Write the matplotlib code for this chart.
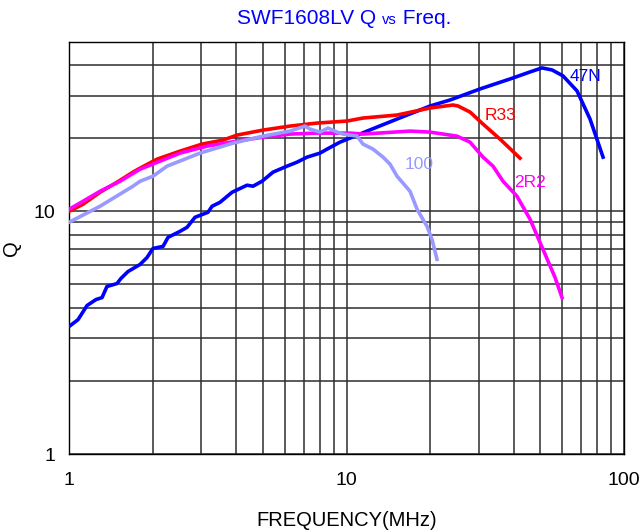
import numpy as np
import matplotlib
matplotlib.use("Agg")
import matplotlib.pyplot as plt
from matplotlib.ticker import FixedLocator, NullFormatter, FixedFormatter

plt.rcParams['font.family'] = ['Liberation Sans', 'DejaVu Sans']

# --- data (frequency MHz, Q) ---
f_47n = [1.00, 1.078, 1.161, 1.251, 1.315, 1.370, 1.489, 1.539, 1.632, 1.803, 1.910, 2.007,
         2.182, 2.274, 2.512, 2.662, 2.845, 3.169, 3.276, 3.500, 3.868, 4.379, 4.604, 4.961,
         5.434, 6.105, 6.631, 7.206, 8.025, 8.506, 9.476, 10.29, 11.86, 15.21, 20.00, 23.60,
         30.28, 39.81, 45.86, 50.63, 55.03, 60.28, 67.72, 75.42, 84.03]
q_47n = [3.35, 3.58, 4.09, 4.33, 4.41, 4.90, 5.04, 5.29, 5.65, 6.04, 6.45, 7.03,
         7.17, 7.81, 8.27, 8.59, 9.45, 9.91, 10.49, 10.89, 11.98, 12.81, 12.69, 13.30,
         14.50, 15.35, 15.94, 16.72, 17.37, 18.04, 19.28, 20.03, 21.41, 24.00, 27.16, 28.75,
         31.93, 35.44, 37.53, 38.98, 38.24, 36.14, 31.33, 24.00, 16.72]

f_r33 = [1.00, 1.123, 1.293, 1.489, 1.700, 1.803, 2.075, 2.512, 3.015, 3.589, 4.031, 5.003,
         6.256, 7.831, 10.04, 11.47, 15.21, 20.00, 24.20, 25.22, 27.86, 31.04, 35.74, 42.19]
q_r33 = [10.0, 10.69, 11.98, 13.18, 14.50, 15.06, 16.40, 17.70, 18.92, 19.65, 20.61, 21.61,
         22.45, 23.10, 23.55, 24.23, 24.93, 26.65, 27.42, 27.16, 25.65, 22.88, 19.84, 16.56]

f_2r2 = [1.00, 1.123, 1.293, 1.527, 1.803, 2.128, 2.512, 3.143, 4.031, 5.003, 6.256, 7.831,
         10.29, 11.47, 16.94, 20.00, 25.01, 27.86, 31.04, 33.72, 36.64, 41.16, 45.86, 51.05,
         56.42, 59.78]
q_2r2 = [10.19, 11.00, 12.09, 13.30, 14.91, 16.09, 17.37, 18.56, 19.46, 20.22, 20.81, 21.00,
         21.00, 20.81, 21.41, 21.20, 20.41, 19.28, 16.72, 15.35, 13.30, 11.53, 9.27, 6.97,
         5.34, 4.41]

f_100 = [1.00, 1.293, 1.700, 1.803, 2.007, 2.255, 2.965, 3.899, 5.003, 6.256, 7.087, 7.387,
         8.025, 8.577, 9.244, 9.714, 10.91, 11.47, 12.46, 13.54, 14.35, 15.21, 16.94, 17.96,
         19.50, 20.33, 21.19]
q_100 = [9.01, 10.49, 12.69, 13.30, 13.95, 15.35, 17.37, 19.10, 20.41, 21.41, 22.45, 21.82,
         21.20, 22.03, 21.20, 20.81, 20.41, 18.92, 18.04, 16.72, 15.64, 13.95, 12.09, 10.19,
         8.67, 7.66, 6.34]

series = [
    ("47N", f_47n, q_47n, "#0000FF", (72.4, 36.1)),
    ("R33", f_r33, q_r33, "#FF0000", (36.0, 24.9)),
    ("2R2", f_2r2, q_2r2, "#FF00FF", (45.9, 13.2)),
    ("100", f_100, q_100, "#9999FF", (18.25, 15.6)),
]

x_ticks = [1, 10, 100]
y_ticks = [1, 10]

fig = plt.figure(figsize=(6.42, 5.31), dpi=100)
ax = fig.add_axes([0.1075, 0.145, 0.8645, 0.7765])
ax.set_xscale('log')
ax.set_yscale('log')
ax.set_xlim(1, 100)
ax.set_ylim(1, 50)

# grid
ax.xaxis.set_major_locator(FixedLocator(x_ticks))
ax.yaxis.set_major_locator(FixedLocator(y_ticks))
ax.xaxis.set_major_formatter(FixedFormatter([str(v) for v in x_ticks]))
ax.yaxis.set_major_formatter(FixedFormatter([str(v) for v in y_ticks]))
ax.xaxis.set_minor_locator(FixedLocator([k * d for d in (1, 10) for k in range(2, 10)]))
ax.yaxis.set_minor_locator(FixedLocator([k * d for d in (1, 10) for k in range(2, 10) if k * d < 50]))
ax.xaxis.set_minor_formatter(NullFormatter())
ax.yaxis.set_minor_formatter(NullFormatter())
ax.grid(True, which='both', color='#2e2e2e', linewidth=1.1)
ax.tick_params(which='both', length=0, labelsize=14)
ax.tick_params(axis='x', pad=13)
ax.tick_params(axis='y', pad=10)

for name, f, q, col, pos in series:
    ax.plot(f, q, color=col, linewidth=2.6, zorder=3)
    ax.text(pos[0], pos[1], name, color=col, fontsize=12.5, ha='center', va='center', zorder=4)

for s in ax.spines.values():
    s.set_color('black')
    s.set_linewidth(1.0)

ax.set_xlabel('FREQUENCY(MHz)', fontsize=14.5, labelpad=16)
ax.set_ylabel('Q', fontsize=14.5)
ax.yaxis.set_label_coords(-0.086, 0.5)

# title with a smaller "vs"
fig.canvas.draw()
r = fig.canvas.get_renderer()
parts = [("SWF1608LV Q ", 15), ("vs", 10.5), (" Freq.", 15)]
texts = []
for s, fs in parts:
    texts.append(fig.text(0, 0.955, s, fontsize=fs, color='#0000FF', va='baseline', ha='left'))
widths = [t.get_window_extent(r).width for t in texts]
x0 = 344 - sum(widths) / 2
for t, w in zip(texts, widths):
    t.set_x(x0 / 642)
    x0 += w

fig.savefig('out.png', dpi=100)
